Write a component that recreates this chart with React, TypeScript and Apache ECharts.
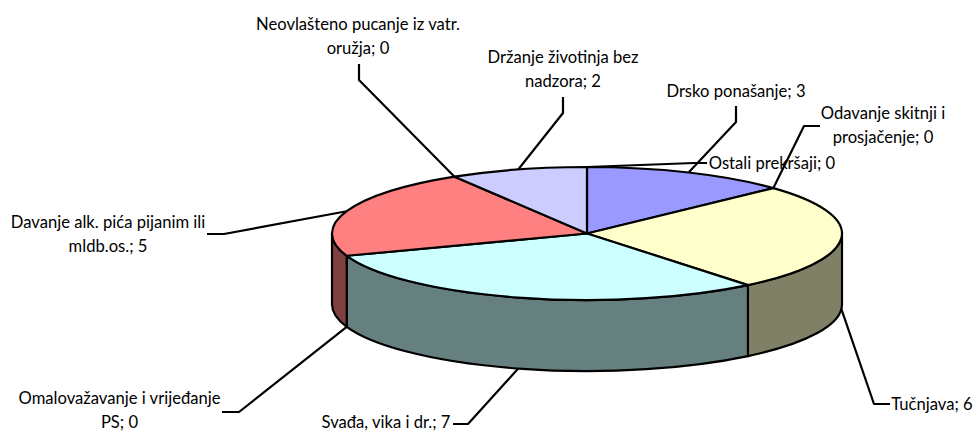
import React, { useEffect, useRef } from "react";
import * as echarts from "echarts";

const categories = [
  "Drsko ponašanje",
  "Odavanje skitnji i\nprosjačenje",
  "Tučnjava",
  "Svađa, vika i dr.",
  "Omalovažavanje i vrijeđanje\nPS",
  "Davanje alk. pića pijanim ili\nmldb.os.",
  "Neovlašteno pucanje iz vatr.\noružja",
  "Držanje životinja bez\nnadzora",
  "Ostali prekršaji",
];
const values = [3, 0, 6, 7, 0, 5, 0, 2, 0];
const topColors = ["#9999FF", "#FFFF99", "#FFFFCC", "#CCFFFF", "#660066", "#FF8080", "#0066CC", "#CCCCFF", "#000080"];
const wallColors = ["#4D4D80", "#80804D", "#808066", "#668080", "#330033", "#804040", "#003366", "#666680", "#000040"];

// Layout only: pie geometry and where each label sits [textX, textY, elbowX, elbowY, lineEndX, lineEndY]
const CX = 587, CY = 233.5, RX = 255, RY = 66.5, DEPTH = 71;
const LINE_GAP = 24;
const labelLayout = [
  [736, 91, 736, 122, 736, 106],
  [883, 125, 804, 126, 820, 126],
  [932, 404, 874, 404, 890, 404],
  [386, 421.5, 468, 424, 453, 424],
  [119.5, 409.5, 239, 412, 222, 412],
  [108, 234, 224, 234, 207, 234],
  [358, 36, 359, 80, 359, 64],
  [563, 69, 563, 113, 563, 97],
  [772, 163, 694, 163, 707, 163],
];

const total = values.reduce((a, b) => a + b, 0);
const fractionBefore = (i: number) => values.slice(0, i).reduce((a, b) => a + b, 0) / total;
const px = (t: number) => CX + RX * Math.sin(t);
const py = (t: number, d = 0) => CY - RY * Math.cos(t) + d;
const arc = (a: number, b: number, d: number, sweep: number) =>
  `A${RX} ${RY} 0 ${Math.abs(b - a) > Math.PI ? 1 : 0} ${sweep} ${px(b)} ${py(b, d)}`;

const TAU = Math.PI * 2;
const sliceAngles = (i: number, v: number) => [fractionBefore(i) * TAU, (fractionBefore(i) + v / total) * TAU];

const line = { stroke: "#000", lineWidth: 2.2, lineJoin: "round", lineCap: "butt" };

const renderWall = (params: any, api: any) => {
  const v = api.value(0);
  const [a0, a1] = sliceAngles(params.dataIndex, v);
  const a = Math.max(a0, Math.PI / 2);
  const b = Math.min(a1, (Math.PI * 3) / 2);
  if (v === 0 || b <= a) return null;
  const d =
    `M${px(a)} ${py(a)}L${px(a)} ${py(a, DEPTH)}` +
    arc(a, b, DEPTH, 1) +
    `L${px(b)} ${py(b)}` +
    arc(b, a, 0, 0) +
    "Z";
  return {
    type: "path",
    shape: { pathData: d },
    style: { fill: wallColors[params.dataIndex], ...line },
  };
};

const renderTop = (params: any, api: any) => {
  const v = api.value(0);
  if (v === 0) return null;
  const [a0, a1] = sliceAngles(params.dataIndex, v);
  const d = `M${CX} ${CY}L${px(a0)} ${py(a0)}` + arc(a0, a1, 0, 1) + "Z";
  return {
    type: "path",
    shape: { pathData: d },
    style: { fill: topColors[params.dataIndex], ...line },
  };
};

const renderLabel = (params: any, api: any) => {
  const i = params.dataIndex;
  const v = api.value(0);
  const [a0, a1] = sliceAngles(i, v);
  const mid = (a0 + a1) / 2;
  const onWall = mid > Math.PI / 2 && mid < (Math.PI * 3) / 2;
  const ax = px(mid);
  const ay = py(mid, onWall ? DEPTH : 0);
  const [tx, ty, ex, ey, sx, sy] = labelLayout[i];
  const rows = `${categories[i]}; ${v}`.split("\n");
  return {
    type: "group",
    children: [
      {
        type: "polyline",
        shape: { points: [[sx, sy], [ex, ey], [ax, ay]] },
        style: { fill: "none", ...line },
      },
      ...rows.map((row, k) => ({
        type: "text",
        style: {
          text: row,
          x: tx,
          y: ty + (k - (rows.length - 1) / 2) * LINE_GAP,
          align: "center",
          verticalAlign: "middle",
          font: "16.6px Lato",
          lineHeight: 14,
          fill: "#000",
        },
      })),
    ],
  };
};

export default function App() {
  const ref = useRef<HTMLDivElement>(null);
  useEffect(() => {
    document.body.style.margin = "0";
    const chart = echarts.init(ref.current!, null, { renderer: "svg" });
    const data = values.map((v) => [v]);
    const base = { type: "custom", coordinateSystem: "none", data, silent: true, clip: false };
    chart.setOption({
      animation: false,
      backgroundColor: "#fff",
      series: [
        { ...base, z: 1, renderItem: renderWall },
        { ...base, z: 2, renderItem: renderTop },
        { ...base, z: 3, renderItem: renderLabel },
      ],
    });
    return () => chart.dispose();
  }, []);
  return <div ref={ref} style={{ width: 975, height: 432 }} />;
}
